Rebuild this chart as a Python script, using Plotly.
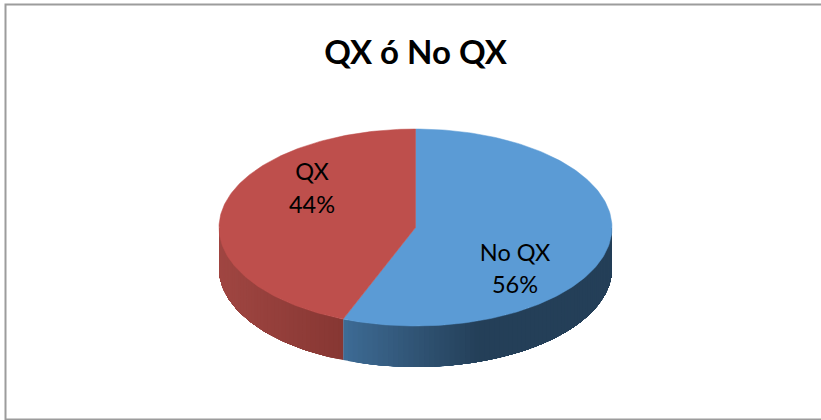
import math
import plotly.graph_objects as go

labels = ["No QX", "QX"]
values = [56, 44]
top_colors = ["#5B9BD5", "#BE4F4C"]
side_left = [(62, 108, 150), (160, 70, 66)]
side_right = [(36, 63, 88), (135, 55, 51)]
side_span = [(341, 480), (219, 341)]
title = "QX ó No QX"

CX, CY, RX, RY, DEPTH = 415.5, 227.5, 196.5, 98.5, 41


def pt(a, dy=0):
    return CX + RX * math.sin(a), CY - RY * math.cos(a) + dy


def side_color(i, x):
    x0, x1 = side_span[i]
    f = min(1, max(0, (x - x0) / (x1 - x0)))
    c = [round(p + (q - p) * f) for p, q in zip(side_left[i], side_right[i])]
    return f"rgb({c[0]},{c[1]},{c[2]})"


fig = go.Figure()
total = sum(values)
start = 0.0
slices = []
for i, v in enumerate(values):
    end = start + v / total * 2 * math.pi
    slices.append((start, end))
    start = end

# visible rim: front half of the disc. Each band is painted over the previous
# one and runs on to the end of the slice, so no seams show between bands.
for i, (a0, a1) in enumerate(slices):
    lo, hi = max(a0, math.pi / 2), min(a1, 3 * math.pi / 2)
    if hi <= lo:
        continue
    n = max(4, int((hi - lo) / math.radians(1.5)))
    steps = [lo + (hi - lo) * k / n for k in range(n + 1)]
    order = range(n) if i == 1 else range(n - 1, -1, -1)
    for k in order:
        arc = steps[k:] if i == 1 else steps[:k + 2]
        p = [pt(s) for s in arc] + [pt(s, DEPTH) for s in reversed(arc)]
        p.append(p[0])
        xm = (pt(steps[k])[0] + pt(steps[k + 1])[0]) / 2
        col = side_color(i, xm)
        fig.add_trace(go.Scatter(
            x=[q[0] for q in p], y=[q[1] for q in p], mode="lines", fill="toself",
            fillcolor=col, line=dict(color=col, width=0), hoverinfo="skip", showlegend=False))

# top face
for i, (a0, a1) in enumerate(slices):
    n = 180
    arc = [pt(a0 + (a1 - a0) * k / n) for k in range(n + 1)]
    p = [(CX, CY)] + arc + [(CX, CY)]
    fig.add_trace(go.Scatter(
        x=[q[0] for q in p], y=[q[1] for q in p], mode="lines", fill="toself",
        fillcolor=top_colors[i], line=dict(color=top_colors[i], width=0.5),
        name=labels[i], hoverinfo="name", showlegend=False))

# data labels
label_pos = [(515, 255, 287), (312, 174, 207)]
for i, (x, y0, y1) in enumerate(label_pos):
    fig.add_trace(go.Scatter(
        x=[x, x], y=[y0, y1], mode="text",
        text=[labels[i], f"{values[i]}%"],
        textposition="middle center",
        textfont=dict(family="Lato", size=23.5, color="#000000"),
        hoverinfo="skip", showlegend=False))

fig.update_layout(
    width=821, height=420, autosize=False,
    margin=dict(l=0, r=0, t=0, b=0),
    paper_bgcolor="white", plot_bgcolor="white",
    xaxis=dict(range=[0, 821], visible=False, fixedrange=True),
    yaxis=dict(range=[420, 0], visible=False, fixedrange=True),
    title=dict(text=f"<b>{title}</b>", x=415.5 / 821, xanchor="center", y=1 - 52 / 420, yanchor="middle",
               font=dict(family="Lato", size=33, color="#000000")),
    shapes=[dict(type="rect", xref="x", yref="y", x0=5.5, y0=4.5, x1=830, y1=419.5,
                 line=dict(color="#9C9C9C", width=2), fillcolor="rgba(0,0,0,0)", layer="below")],
)
fig.write_html("out.html", config=dict(displayModeBar=False),
               post_script="document.documentElement.style.overflow='hidden';document.body.style.margin='0';")
